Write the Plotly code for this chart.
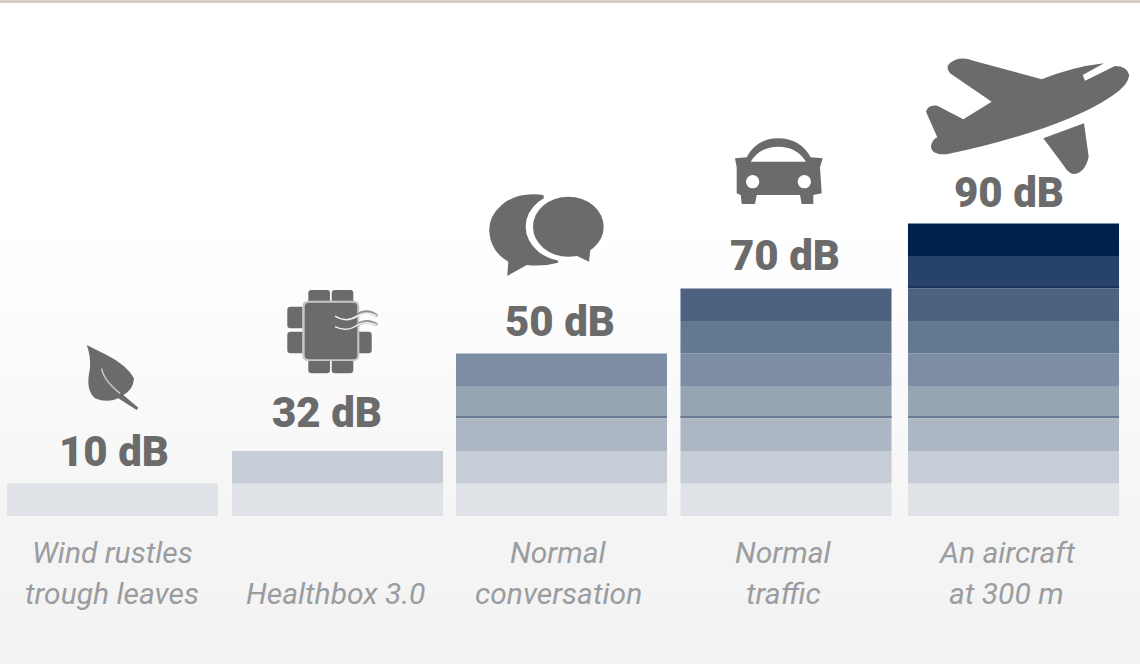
import re
import plotly.graph_objects as go

# ---------- data ----------
categories = ["Wind rustles trough leaves", "Healthbox 3.0", "Normal conversation", "Normal traffic", "An aircraft at 300 m"]
db_values = [10, 32, 50, 70, 90]
bands_lit = [1, 2, 5, 7, 9]
band_step = 10
band_colors = ["#dfe2e7", "#c6cdd6", "#adb7c4", "#97a4b4", "#7d8da3", "#637891", "#4d6180", "#274369", "#00214d"]
seam_levels = [3, 7]
seam_colors = ["#6a7c93", "#1b3358"]
caption_lines = [["Wind rustles", "trough leaves"], ["", "Healthbox 3.0"], ["Normal", "conversation"], ["Normal", "traffic"], ["An aircraft", "at 300 m"]]
bg_rows = [0, 220, 330, 440, 530, 664]
bg_gray = [255, 255, 252, 248, 244, 243]

INK = "#6b6b6b"
CAP = "#9a9c9f"
LABEL_XSHIFT = [1, -11, -3, -3, -4]
LABEL_YSHIFT = [4, 10, 4, 5, 3]
CAP_X = [112, 335, 558, 783, 1006]
BAR_SHIFT = [0, 0, -1.0 / 225, -1.5 / 225, 1.0 / 225]

fig = go.Figure()

# page gradient (pixel-space primary axes)
fig.add_trace(go.Heatmap(x=[0, 1140], y=bg_rows, z=[[g, g] for g in bg_gray], zsmooth="best",
                         colorscale=[[0, "rgb(243,243,243)"], [1, "rgb(255,255,255)"]], zmin=243, zmax=255,
                         showscale=False, hoverinfo="skip", xaxis="x", yaxis="y"))

def band_trace(level_needed, height, base, color):
    idx = [i for i, b in enumerate(bands_lit) if b > level_needed]
    return go.Bar(x=[categories[i] for i in idx], y=[height] * len(idx), base=[base] * len(idx),
                  width=0.938, offset=[-0.469 + BAR_SHIFT[i] for i in idx],
                  marker=dict(color=color, line=dict(width=0)), xaxis="x2", yaxis="y2", showlegend=False)

# bands
for k, col in enumerate(band_colors):
    fig.add_trace(band_trace(k, band_step, band_step * k, col))
for lvl, col in zip(seam_levels, seam_colors):
    fig.add_trace(band_trace(lvl, 0.3, band_step * lvl + 0.2, col))

annotations = []
for i, c in enumerate(categories):
    annotations.append(dict(x=c, y=bands_lit[i] * band_step, xref="x2", yref="y2", text=f"{db_values[i]} dB",
                            showarrow=False, yanchor="bottom", xanchor="center",
                            xshift=LABEL_XSHIFT[i], yshift=2 + LABEL_YSHIFT[i],
                            font=dict(family="Roboto", size=42, color=INK, weight=900)))
    for line, yy in zip(caption_lines[i], (552, 593)):
        if line:
            annotations.append(dict(x=CAP_X[i], y=yy, xref="x", yref="y", text=f"<i>{line}</i>", showarrow=False,
                                    xanchor="center", yanchor="middle",
                                    font=dict(family="Roboto", size=30, color=CAP, weight=400)))

# ---------- icons, traced in zoomed crop coordinates ----------
def place(path, ox, oy, s=1 / 3):
    nums = iter(range(10 ** 6))
    def rep(m):
        v = float(m.group())
        return f"{(ox if next(nums) % 2 == 0 else oy) + v * s:.1f}"
    return re.sub(r"-?\d+\.?\d*", rep, path)

shapes = [dict(type="rect", x0=0, x1=1140, y0=0, y1=3, xref="x", yref="y", fillcolor="#d3d0c1", line_width=0, layer="above")]

def fill(path, ox, oy, color=INK):
    shapes.append(dict(type="path", path=place(path, ox, oy), xref="x", yref="y", fillcolor=color, line_width=0, layer="above"))

def stroke(path, ox, oy, color, w):
    shapes.append(dict(type="path", path=place(path, ox, oy), xref="x", yref="y", line=dict(color=color, width=w), layer="above"))

def oval(cx, cy, rx, ry, ox, oy, color):
    shapes.append(dict(type="circle", xref="x", yref="y", x0=ox + (cx - rx) / 3, x1=ox + (cx + rx) / 3,
                       y0=oy + (cy - ry) / 3, y1=oy + (cy + ry) / 3, fillcolor=color, line_width=0, layer="above"))

# plane
fill("M 78 215 Q 85 192 112 197 L 190 238 L 275 185 L 150 100 Q 130 75 165 60 Q 190 50 220 62 L 425 118 Q 520 80 612 70 "
     "L 548 105 L 555 122 L 645 78 Q 680 78 688 105 Q 685 135 640 165 Q 570 215 430 265 Q 280 315 140 343 Q 95 345 93 320 "
     "Q 95 300 112 292 Z", 900, 40)
fill("M 430 295 L 552 250 L 566 350 Q 555 400 520 402 Q 505 400 490 375 Z", 900, 40)
# car
fill("M 795 85 L 830 82 Q 860 25 925 25 Q 990 25 1022 82 L 1058 85 L 1050 112 L 1055 190 L 1030 195 L 1030 222 L 995 222 "
     "L 990 195 L 860 195 L 855 222 L 815 222 L 812 195 L 800 190 L 800 112 Z", 470, 130)
fill("M 842 95 Q 870 50 925 50 Q 980 50 1008 95 Z", 470, 130, "#ffffff")
oval(848, 155, 20, 20, 470, 130, "#ffffff")
oval(1003, 155, 20, 20, 470, 130, "#ffffff")
# speech bubbles
fill("M 220 195 Q 140 185 95 225 Q 55 260 58 305 Q 62 365 115 395 L 112 438 L 170 405 Q 220 410 265 398 Z", 470, 130)
oval(295, 290, 128, 105, 470, 130, "#ffffff")
oval(295, 290, 106, 90, 470, 130, INK)
fill("M 315 375 L 357 395 L 362 350 Z", 470, 130)
# leaf
fill("M 140 30 L 200 60 Q 260 90 282 130 Q 280 165 250 180 L 295 218 L 290 225 L 235 190 Q 200 205 165 190 "
     "Q 135 165 150 100 Q 152 60 140 30 Z", 40, 335)
stroke("M 185 100 Q 190 135 240 175", 40, 335, "#c4c4c4", 1.5)
# chip
for b in ["M 125 30 L 172 30 Q 180 30 180 40 L 180 66 L 115 66 L 115 40 Q 115 30 125 30 Z",
          "M 195 30 L 242 30 Q 250 30 250 40 L 250 66 L 185 66 L 185 40 Q 185 30 195 30 Z",
          "M 115 240 L 180 240 L 180 270 Q 180 280 170 280 L 125 280 Q 115 280 115 270 Z",
          "M 185 240 L 250 240 L 250 270 Q 250 280 240 280 L 195 280 Q 185 280 185 270 Z",
          "M 62 80 L 98 80 L 98 145 L 62 145 Q 52 145 52 135 L 52 90 Q 52 80 62 80 Z",
          "M 62 155 L 98 155 L 98 220 L 62 220 Q 52 220 52 210 L 52 165 Q 52 155 62 155 Z",
          "M 265 155 L 295 155 Q 305 155 305 165 L 305 210 Q 305 220 295 220 L 265 220 Z"]:
    fill(b, 270, 280)
fill("M 115 62 L 250 62 Q 268 62 268 80 L 268 225 Q 268 243 250 243 L 115 243 Q 97 243 97 225 L 97 80 Q 97 62 115 62 Z", 270, 280, "#c8c8c8")
fill("M 118 68 L 250 68 Q 262 68 262 80 L 262 225 Q 262 238 250 238 L 118 238 Q 104 238 104 225 L 104 80 Q 104 68 118 68 Z", 270, 280)
stroke("M 262 105 Q 290 85 322 108", 270, 280, "#8f8f8f", 3)
stroke("M 262 135 Q 290 115 322 135", 270, 280, "#8f8f8f", 3)
stroke("M 195 108 Q 228 130 262 108 Q 290 90 320 108", 270, 280, "#efefef", 1.5)
stroke("M 195 140 Q 230 158 262 135 Q 290 120 320 135", 270, 280, "#efefef", 1.5)

hidden = dict(visible=False, showgrid=False, zeroline=False, fixedrange=True)
fig.update_layout(
    width=1140, height=664, margin=dict(l=0, r=0, t=0, b=0), showlegend=False, barmode="overlay",
    paper_bgcolor="white", plot_bgcolor="rgba(0,0,0,0)", annotations=annotations, shapes=shapes,
    xaxis=dict(range=[0, 1140], **hidden),
    yaxis=dict(range=[664, 0], **hidden),
    xaxis2=dict(overlaying="x", type="category", categoryorder="array", categoryarray=categories,
                range=[-0.5, (1140 - 112.5) / 225], **hidden),
    yaxis2=dict(overlaying="y", range=[-(664 - 516) / 3.25, 516 / 3.25], **hidden),
)
fig.write_html("out.html", config=dict(displayModeBar=False),
               post_script="document.body.style.margin='0';document.documentElement.style.overflow='hidden';")
